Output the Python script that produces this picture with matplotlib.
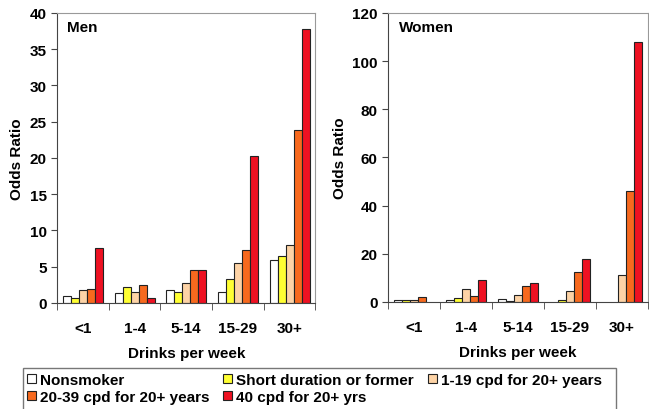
import numpy as np
import matplotlib.pyplot as plt
from matplotlib.patches import Patch, Rectangle

plt.rcParams['font.family'] = ['Liberation Sans', 'DejaVu Sans']
plt.rcParams['font.weight'] = 'bold'

drinks = ['<1', '1-4', '5-14', '15-29', '30+']
groups = ['Nonsmoker', 'Short duration or former', '1-19 cpd for 20+ years',
          '20-39 cpd for 20+ years', '40 cpd for 20+ yrs']
colors = ['#ffffff', '#ffff33', '#fdd3a6', '#f7691e', '#ee1122']

# odds ratios, rows = smoking group, columns = drinks per week
men = [
    [1.0, 1.3, 1.7, 1.5, 5.9],
    [0.7, 2.2, 1.5, 3.3, 6.5],
    [1.8, 1.5, 2.7, 5.5, 8.0],
    [1.9, 2.4, 4.5, 7.3, 23.9],
    [7.5, 0.7, 4.5, 20.2, 37.8],
]
# nan = no bar shown
women = [
    [1.0, 0.7, 1.3, np.nan, np.nan],
    [1.0, 1.5, 0.3, 1.0, np.nan],
    [1.0, 5.2, 3.0, 4.5, 11.0],
    [2.2, 2.5, 6.8, 12.3, 46.0],
    [np.nan, 9.3, 7.8, 18.0, 108.0],
]

fig = plt.figure(figsize=(6.49, 4.10), dpi=100)
ax1 = fig.add_axes([0.088, 0.259, 0.398, 0.707])
ax2 = fig.add_axes([0.598, 0.261, 0.400, 0.705])

def draw(ax, data, ymax, step, title):
    x = np.arange(len(drinks))
    w = 0.155
    for i, vals in enumerate(data):
        ax.bar(x + (i - 2) * w, vals, w, color=colors[i],
               edgecolor='#222222', linewidth=0.8)
    ax.set_xlim(-0.5, len(drinks) - 0.5)
    ax.set_ylim(0, ymax)
    ax.set_yticks(np.arange(0, ymax + 1, step))
    ax.set_xticks(x)
    ax.set_xticklabels(drinks)
    ax.set_xticks(np.arange(-0.5, len(drinks)), minor=True)
    ax.tick_params(axis='x', which='major', length=0, pad=13, labelsize=11)
    ax.tick_params(axis='x', which='minor', length=5, color='#444444')
    ax.tick_params(axis='y', length=4, color='#444444', labelsize=11)
    for s in ['top', 'right']:
        ax.spines[s].set_color('#999999')
    for s in ['left', 'bottom']:
        ax.spines[s].set_color('#444444')
    ax.set_xlabel('Drinks per week', fontsize=11, fontweight='bold', labelpad=8)
    ax.set_ylabel('Odds Ratio', fontsize=11, fontweight='bold', labelpad=4)
    ax.text(0.04, 0.975, title, transform=ax.transAxes, fontsize=11,
            fontweight='bold', va='top')

draw(ax1, men, 40, 5, 'Men')
draw(ax2, women, 120, 20, 'Women')

handles = [Patch(facecolor=c, edgecolor='#222222', linewidth=0.8) for c in colors]
order = [0, 3, 1, 4, 2]
fig.legend([handles[i] for i in order], [groups[i] for i in order],
           loc='upper left', bbox_to_anchor=(27 / 649, 0.088),
           ncol=3, fontsize=11, frameon=False, handlelength=0.6,
           handleheight=0.6, handletextpad=0.25, columnspacing=0.9,
           borderpad=0.0, labelspacing=0.2, borderaxespad=0.0)
fig.patches.append(Rectangle((23 / 649, -0.01), 593 / 649, 1 - 369 / 410 + 0.01,
                             transform=fig.transFigure, fill=False,
                             edgecolor='#777777', linewidth=1.0))

fig.savefig('out.png', dpi=100)
